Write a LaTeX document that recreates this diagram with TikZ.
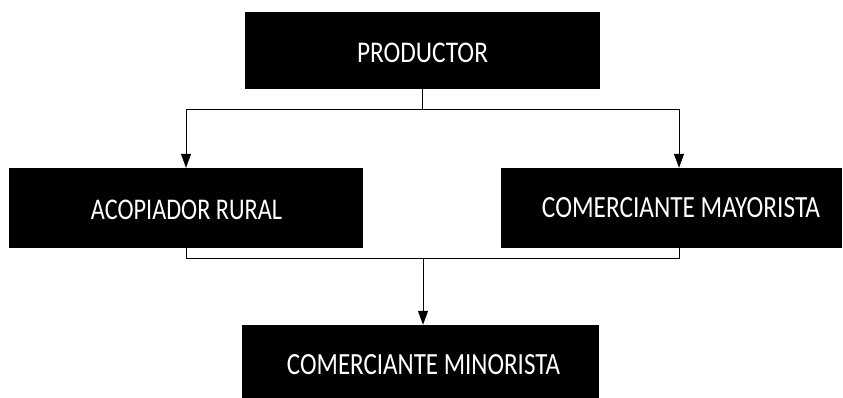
\documentclass[tikz,border=0pt]{standalone}
\usepackage{fontspec}
\setmainfont{Carlito}
\usetikzlibrary{arrows.meta}
\begin{document}
\begin{tikzpicture}[x=1pt,y=-1pt,
  blk/.style={fill=black,inner sep=0pt},
  lbl/.style={text=white,inner sep=0pt,font=\fontsize{26}{30}\selectfont},
  conn/.style={draw=black,line width=1pt},
  arr/.style={conn,-{Triangle[length=14pt,width=10pt]}}]
\useasboundingbox[fill=white] (0,0) rectangle (843,398);
\node[blk,minimum width=355pt,minimum height=77pt] (prod) at (422.5,50.5) {};
\node[blk,minimum width=354pt,minimum height=80pt] (acop) at (186,208) {};
\node[blk,minimum width=341pt,minimum height=80pt] (mayo) at (671.5,208) {};
\node[blk,minimum width=357pt,minimum height=73pt] (mino) at (420.5,361.5) {};
\node[lbl] (prodT) at (422.5,52.5) {\resizebox{131pt}{19.5pt}{PRODUCTOR}};
\node[lbl] (acopT) at (186.5,209.5) {\resizebox{191pt}{19.5pt}{ACOPIADOR RURAL}};
\node[lbl] (mayoT) at (681,208) {\resizebox{278pt}{20pt}{COMERCIANTE MAYORISTA}};
\node[lbl] (minoT) at (423.5,365) {\resizebox{273pt}{20pt}{COMERCIANTE MINORISTA}};
\coordinate (t) at (422.5,110);
\coordinate (b) at (423,258);
\coordinate (mt) at ([xshift=7.5pt]mayo.north);
\coordinate (mb) at ([xshift=7.5pt]mayo.south);
\draw[conn] (prod.south) -- (t);
\draw[arr] (t) -| (acop.north);
\draw[arr] (t) -| (mt);
\draw[conn] (acop.south) |- (b);
\draw[conn] (mb) |- (b);
\draw[arr] (b) -- (b |- mino.north);
\end{tikzpicture}
\end{document}
